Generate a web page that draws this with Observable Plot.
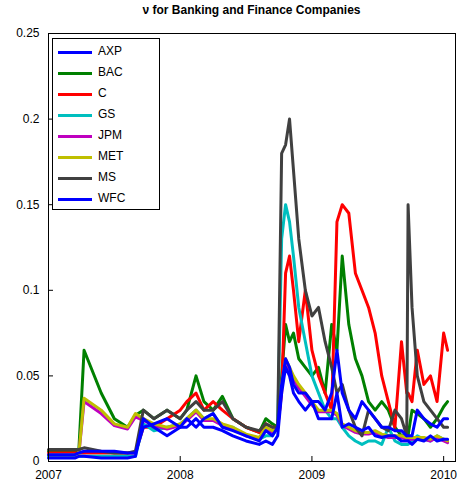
<!DOCTYPE html>
<html><head>
<script src="https://cdn.jsdelivr.net/npm/d3@7"></script>
<script src="https://cdn.jsdelivr.net/npm/@observablehq/plot@0.6"></script>
<style>
body{margin:0;background:#fff;font-family:"Liberation Sans",Arial,sans-serif}
#wrap{position:relative;width:457px;height:488px}
#title{position:absolute;top:3px;left:48px;width:407px;text-align:center;font-weight:bold;font-size:12px}
#legend{position:absolute;left:52px;top:38px;width:106px;height:170px;border:1px solid #000;background:#fff;font-size:12px}
.item{position:absolute;left:5px;height:16px}
.item span.l{position:absolute;left:0;top:7px;width:34px;height:3px}
.item span.t{position:absolute;left:40px;top:0;white-space:nowrap}
</style></head><body>
<div id="wrap"><div id="chart"></div><div id="title">ν for Banking and Finance Companies</div><div id="legend"></div></div>
<script>
const dates=[2007.0,2007.1,2007.2,2007.23,2007.27,2007.4,2007.5,2007.6,2007.66,2007.72,2007.8,2007.9,2008.0,2008.05,2008.12,2008.18,2008.25,2008.32,2008.4,2008.5,2008.6,2008.65,2008.7,2008.74,2008.77,2008.8,2008.83,2008.86,2008.9,2008.95,2009.0,2009.05,2009.1,2009.15,2009.19,2009.23,2009.28,2009.33,2009.38,2009.43,2009.48,2009.53,2009.58,2009.63,2009.68,2009.72,2009.73,2009.76,2009.8,2009.85,2009.9,2009.95,2010.0,2010.03];
const names=["AXP","BAC","C","GS","JPM","MET","MS","WFC"];
const colors=["#0000ff","#008000","#ff0000","#00bfbf","#bf00bf","#bfbf00","#404040","#0000ff"];
const AXP=[.002,.002,.002,.003,.003,.002,.002,.002,.003,.025,.02,.015,.02,.02,.025,.02,.02,.018,.015,.012,.01,.012,.01,.015,.04,.055,.05,.04,.035,.03,.035,.025,.025,.025,.04,.02,.022,.02,.018,.02,.015,.014,.015,.015,.012,.012,.012,.01,.013,.012,.015,.012,.013,.013];
const BAC=[.006,.006,.006,.006,.065,.04,.025,.02,.027,.03,.025,.03,.025,.03,.05,.035,.03,.038,.025,.02,.017,.025,.022,.02,.05,.08,.07,.075,.06,.055,.05,.055,.04,.08,.065,.12,.08,.06,.05,.035,.03,.035,.03,.02,.015,.015,.015,.03,.028,.025,.02,.025,.032,.035];
const C=[.005,.005,.005,.005,.005,.005,.005,.005,.005,.02,.02,.025,.03,.035,.04,.03,.035,.03,.025,.02,.017,.022,.02,.02,.04,.11,.12,.1,.07,.1,.065,.05,.04,.03,.14,.15,.145,.11,.1,.09,.075,.05,.035,.02,.07,.04,.04,.035,.065,.045,.05,.035,.075,.065];
const GS=[.003,.003,.003,.003,.003,.003,.003,.003,.003,.022,.018,.02,.022,.025,.03,.025,.028,.02,.02,.015,.013,.015,.015,.02,.13,.15,.14,.12,.09,.07,.05,.04,.03,.025,.025,.02,.015,.012,.01,.012,.012,.01,.02,.012,.01,.01,.01,.012,.015,.013,.012,.015,.013,.012];
const JPM=[.004,.004,.004,.004,.035,.028,.021,.019,.026,.024,.021,.019,.021,.024,.029,.024,.024,.021,.019,.015,.013,.019,.017,.019,.043,.058,.053,.048,.043,.038,.033,.029,.029,.029,.027,.021,.019,.017,.016,.016,.017,.015,.014,.014,.014,.013,.013,.013,.013,.013,.012,.014,.012,.011];
const MET=[.004,.004,.004,.004,.037,.03,.022,.02,.028,.025,.022,.02,.022,.025,.03,.025,.025,.022,.02,.016,.014,.02,.018,.02,.045,.06,.055,.05,.045,.04,.035,.03,.03,.03,.028,.022,.02,.018,.017,.017,.018,.016,.015,.015,.015,.014,.014,.014,.014,.014,.013,.015,.013,.012];
const MS=[.007,.007,.007,.007,.008,.006,.005,.005,.006,.03,.025,.03,.025,.03,.035,.03,.03,.035,.025,.02,.018,.022,.02,.02,.18,.185,.2,.17,.13,.1,.085,.09,.07,.055,.04,.045,.03,.02,.015,.03,.025,.02,.018,.03,.025,.015,.15,.09,.05,.035,.03,.025,.02,.02];
const WFC=[.004,.004,.004,.005,.006,.006,.006,.005,.005,.02,.022,.025,.02,.025,.02,.025,.028,.02,.018,.015,.012,.018,.015,.02,.045,.06,.055,.045,.04,.04,.035,.035,.03,.04,.065,.04,.03,.025,.035,.03,.025,.02,.02,.018,.018,.015,.015,.015,.03,.025,.022,.02,.025,.025];
const series={AXP,BAC,C,GS,JPM,MET,MS,WFC};
const drawOrder=["BAC","C","GS","JPM","MET","MS","AXP","WFC"];
const rows=[];
for(const n of drawOrder){series[n].forEach((v,i)=>rows.push({name:n,t:dates[i],v}));}
const plot=Plot.plot({
  width:457,height:488,marginTop:33,marginBottom:27,marginLeft:48,marginRight:2,
  style:{fontFamily:"Liberation Sans, Arial, sans-serif",fontSize:"12px",color:"#000"},
  x:{domain:[2007,2010.09],ticks:[2007,2008,2009,2010],tickFormat:d=>String(d),tickSize:-5,label:null},
  y:{domain:[0,0.25],ticks:[0,.05,.1,.15,.2,.25],tickFormat:d=>d===0?"0":String(+d.toFixed(2)),tickSize:-5,label:null},
  marks:[
    ...drawOrder.map(n=>Plot.line(rows.filter(r=>r.name===n),{x:"t",y:"v",stroke:colors[names.indexOf(n)],strokeWidth:3})),
    Plot.frame({stroke:"#000"})
  ]
});
document.getElementById("chart").appendChild(plot);
const lg=document.getElementById("legend");
names.forEach((n,i)=>{const d=document.createElement("div");d.className="item";d.style.top=(5+i*21)+"px";
d.innerHTML=`<span class="l" style="background:${colors[i]}"></span><span class="t">${n}</span>`;lg.appendChild(d);});
</script></body></html>
